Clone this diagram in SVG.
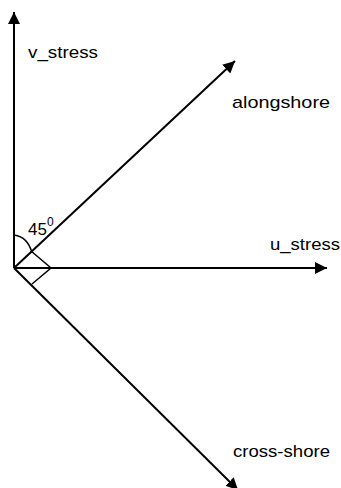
<svg xmlns="http://www.w3.org/2000/svg" width="341" height="488" viewBox="0 0 341 488">
<style>
.ax{stroke:#000;stroke-width:2;fill:none;marker-end:url(#ah)}
.thin{stroke:#000;stroke-width:1.5;fill:none}
text{font-family:"Liberation Sans",Arial,sans-serif;font-size:17px;fill:#000}
</style>
<defs>
<marker id="ah" markerUnits="userSpaceOnUse" markerWidth="14" markerHeight="14" refX="12" refY="6" orient="auto">
<path d="M0,0 L12,6 L0,12 Z" fill="#000"/>
</marker>
</defs>
<rect width="341" height="488" fill="#fff"/>
<g id="connectors">
<line class="ax" x1="14" y1="268" x2="14" y2="12"/>
<line class="ax" x1="14" y1="268" x2="327" y2="268"/>
<line class="ax" x1="14" y1="268" x2="235" y2="61"/>
<line class="ax" x1="14" y1="268" x2="238" y2="490"/>
<path class="thin" d="M14,235 Q28,237 32,253"/>
<path class="thin" d="M31,251 L51,268 L32,284"/>
</g>
<g id="v_stress"><text x="28" y="58" textLength="70" lengthAdjust="spacingAndGlyphs">v_stress</text></g>
<g id="alongshore"><text x="232" y="108" textLength="98" lengthAdjust="spacingAndGlyphs">alongshore</text></g>
<g id="u_stress"><text x="270" y="250" textLength="70" lengthAdjust="spacingAndGlyphs">u_stress</text></g>
<g id="cross-shore"><text x="233" y="457" textLength="97" lengthAdjust="spacingAndGlyphs">cross-shore</text></g>
<g id="angle"><text x="28" y="235">45<tspan font-size="12" dy="-9">0</tspan></text></g>
</svg>
